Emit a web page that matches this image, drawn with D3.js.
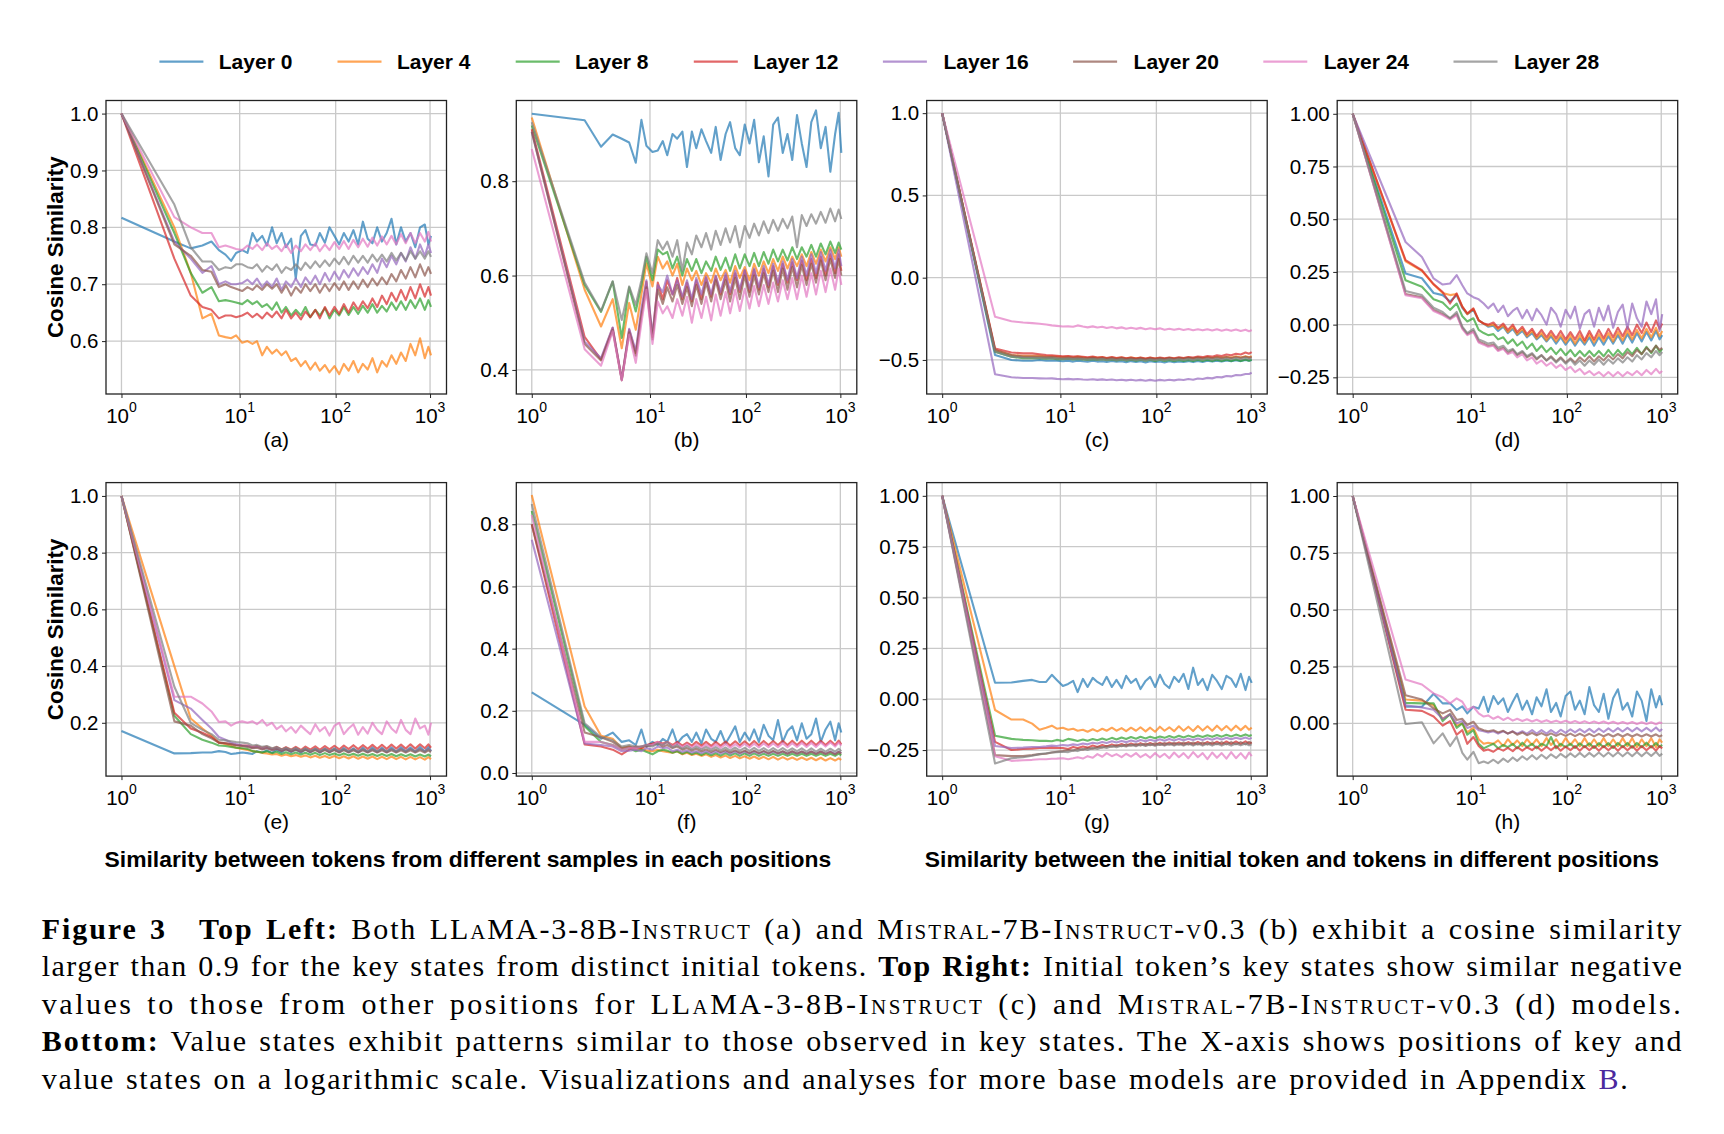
<!DOCTYPE html>
<html><head><meta charset="utf-8">
<script src="https://cdn.jsdelivr.net/npm/d3@7/dist/d3.min.js"></script>
<style>body{margin:0;background:#fff}svg{display:block}</style>
</head><body>
<svg id="chart" width="1724" height="1134"></svg>
<script>
// ---------------- DATA ----------------
const positions = [1, 2.4, 3.35, 4.3, 5.25, 6.2, 7.2, 8.2, 9.2, 10.6, 12, 13.5, 15, 17, 19, 21.5, 24, 27, 30, 34, 38, 43, 48, 54, 61, 68, 77, 86, 97, 109, 122, 137, 154, 173, 194, 218, 245, 275, 309, 347, 390, 438, 492, 552, 620, 697, 783, 880, 960, 1024];
const layerNames = ["Layer 0", "Layer 4", "Layer 8", "Layer 12", "Layer 16", "Layer 20", "Layer 24", "Layer 28"];
const panelLabels = ["(a)", "(b)", "(c)", "(d)", "(e)", "(f)", "(g)", "(h)"];
const xTickValues = [1, 10, 100, 1000];

// (a)
const a0 = [0.817, 0.775, 0.763, 0.768, 0.775, 0.76, 0.752, 0.741, 0.755, 0.76, 0.755, 0.79, 0.775, 0.785, 0.768, 0.80, 0.772, 0.79, 0.765, 0.78, 0.71, 0.785, 0.795, 0.77, 0.768, 0.79, 0.773, 0.80, 0.785, 0.77, 0.79, 0.775, 0.795, 0.77, 0.81, 0.78, 0.772, 0.80, 0.775, 0.79, 0.815, 0.77, 0.80, 0.775, 0.79, 0.765, 0.80, 0.805, 0.77, 0.785];
const a4 = [1.0, 0.80, 0.72, 0.64, 0.648, 0.61, 0.607, 0.605, 0.61, 0.597, 0.60, 0.595, 0.60, 0.575, 0.59, 0.578, 0.585, 0.575, 0.582, 0.565, 0.57, 0.556, 0.565, 0.55, 0.562, 0.548, 0.558, 0.545, 0.556, 0.542, 0.56, 0.548, 0.565, 0.545, 0.56, 0.55, 0.57, 0.545, 0.565, 0.555, 0.575, 0.56, 0.58, 0.565, 0.595, 0.575, 0.605, 0.57, 0.59, 0.575];
const a8 = [1.0, 0.79, 0.72, 0.685, 0.695, 0.67, 0.672, 0.67, 0.668, 0.665, 0.672, 0.665, 0.67, 0.66, 0.665, 0.655, 0.668, 0.65, 0.66, 0.645, 0.655, 0.645, 0.66, 0.642, 0.655, 0.645, 0.658, 0.64, 0.655, 0.645, 0.66, 0.646, 0.66, 0.648, 0.662, 0.65, 0.665, 0.65, 0.662, 0.652, 0.668, 0.655, 0.67, 0.655, 0.672, 0.658, 0.675, 0.655, 0.672, 0.66];
const a12 = [1.0, 0.745, 0.68, 0.66, 0.655, 0.64, 0.645, 0.645, 0.642, 0.645, 0.65, 0.642, 0.648, 0.64, 0.65, 0.642, 0.652, 0.64, 0.655, 0.64, 0.65, 0.638, 0.652, 0.642, 0.655, 0.64, 0.66, 0.645, 0.66, 0.648, 0.665, 0.65, 0.668, 0.655, 0.67, 0.658, 0.675, 0.66, 0.68, 0.665, 0.685, 0.67, 0.69, 0.672, 0.695, 0.675, 0.70, 0.678, 0.695, 0.68];
const a16 = [1.0, 0.775, 0.745, 0.72, 0.732, 0.70, 0.705, 0.70, 0.70, 0.702, 0.708, 0.70, 0.71, 0.695, 0.705, 0.695, 0.71, 0.69, 0.705, 0.695, 0.71, 0.695, 0.712, 0.70, 0.715, 0.70, 0.72, 0.705, 0.722, 0.708, 0.725, 0.712, 0.728, 0.715, 0.73, 0.718, 0.735, 0.72, 0.745, 0.73, 0.75, 0.735, 0.755, 0.74, 0.765, 0.745, 0.77, 0.75, 0.77, 0.755];
const a20 = [1.0, 0.77, 0.75, 0.725, 0.722, 0.695, 0.70, 0.695, 0.692, 0.688, 0.695, 0.69, 0.698, 0.69, 0.70, 0.692, 0.70, 0.685, 0.698, 0.68, 0.695, 0.685, 0.70, 0.688, 0.70, 0.685, 0.70, 0.688, 0.702, 0.69, 0.705, 0.69, 0.705, 0.692, 0.708, 0.695, 0.71, 0.698, 0.712, 0.70, 0.718, 0.705, 0.725, 0.71, 0.73, 0.712, 0.735, 0.715, 0.73, 0.718];
const a24 = [1.0, 0.818, 0.80, 0.79, 0.79, 0.765, 0.768, 0.765, 0.762, 0.76, 0.768, 0.762, 0.77, 0.76, 0.772, 0.762, 0.768, 0.758, 0.77, 0.755, 0.768, 0.758, 0.77, 0.76, 0.772, 0.758, 0.77, 0.76, 0.774, 0.762, 0.776, 0.762, 0.778, 0.765, 0.78, 0.766, 0.782, 0.768, 0.784, 0.77, 0.785, 0.77, 0.788, 0.772, 0.79, 0.772, 0.79, 0.775, 0.792, 0.775];
const a28 = [1.0, 0.84, 0.765, 0.74, 0.74, 0.725, 0.73, 0.728, 0.735, 0.735, 0.73, 0.728, 0.735, 0.722, 0.732, 0.725, 0.735, 0.72, 0.73, 0.725, 0.735, 0.725, 0.738, 0.728, 0.74, 0.73, 0.742, 0.732, 0.745, 0.735, 0.748, 0.735, 0.75, 0.738, 0.75, 0.738, 0.752, 0.74, 0.752, 0.74, 0.755, 0.742, 0.755, 0.742, 0.758, 0.745, 0.758, 0.745, 0.758, 0.748];
// (b)
const b0 = [0.943, 0.929, 0.873, 0.899, 0.89, 0.882, 0.839, 0.93, 0.875, 0.862, 0.865, 0.885, 0.855, 0.90, 0.89, 0.905, 0.83, 0.905, 0.87, 0.91, 0.885, 0.86, 0.915, 0.845, 0.9, 0.925, 0.87, 0.855, 0.92, 0.88, 0.93, 0.84, 0.895, 0.81, 0.92, 0.935, 0.86, 0.9, 0.845, 0.94, 0.88, 0.83, 0.925, 0.95, 0.87, 0.915, 0.82, 0.9, 0.945, 0.86];
const b4 = [0.935, 0.57, 0.492, 0.55, 0.446, 0.542, 0.485, 0.56, 0.626, 0.577, 0.64, 0.615, 0.63, 0.60, 0.625, 0.58, 0.615, 0.59, 0.61, 0.58, 0.605, 0.585, 0.615, 0.59, 0.612, 0.585, 0.62, 0.595, 0.618, 0.59, 0.625, 0.60, 0.63, 0.605, 0.635, 0.61, 0.64, 0.615, 0.64, 0.62, 0.645, 0.62, 0.65, 0.625, 0.655, 0.63, 0.66, 0.635, 0.66, 0.64];
const b8 = [0.918, 0.58, 0.523, 0.587, 0.468, 0.575, 0.524, 0.58, 0.64, 0.59, 0.655, 0.645, 0.65, 0.615, 0.64, 0.60, 0.635, 0.61, 0.635, 0.605, 0.63, 0.61, 0.64, 0.612, 0.638, 0.61, 0.645, 0.615, 0.645, 0.62, 0.648, 0.62, 0.65, 0.625, 0.655, 0.63, 0.655, 0.632, 0.66, 0.635, 0.66, 0.64, 0.665, 0.64, 0.668, 0.645, 0.672, 0.648, 0.67, 0.655];
const b12 = [0.91, 0.47, 0.422, 0.489, 0.38, 0.485, 0.436, 0.52, 0.587, 0.47, 0.585, 0.55, 0.59, 0.56, 0.595, 0.55, 0.585, 0.545, 0.59, 0.55, 0.595, 0.555, 0.598, 0.56, 0.60, 0.56, 0.605, 0.565, 0.61, 0.565, 0.612, 0.57, 0.615, 0.575, 0.62, 0.58, 0.625, 0.585, 0.628, 0.59, 0.632, 0.59, 0.635, 0.595, 0.64, 0.60, 0.645, 0.605, 0.645, 0.61];
const b16 = [0.905, 0.46, 0.425, 0.49, 0.38, 0.487, 0.44, 0.53, 0.59, 0.475, 0.58, 0.565, 0.60, 0.56, 0.59, 0.555, 0.59, 0.55, 0.595, 0.56, 0.598, 0.56, 0.60, 0.565, 0.605, 0.565, 0.61, 0.57, 0.612, 0.572, 0.615, 0.575, 0.62, 0.58, 0.625, 0.585, 0.63, 0.59, 0.635, 0.595, 0.64, 0.60, 0.645, 0.605, 0.65, 0.61, 0.655, 0.615, 0.655, 0.62];
const b20 = [0.905, 0.455, 0.42, 0.485, 0.378, 0.48, 0.43, 0.515, 0.575, 0.465, 0.57, 0.54, 0.575, 0.545, 0.58, 0.54, 0.575, 0.535, 0.58, 0.54, 0.585, 0.545, 0.59, 0.55, 0.59, 0.545, 0.595, 0.55, 0.60, 0.555, 0.60, 0.56, 0.605, 0.565, 0.61, 0.565, 0.615, 0.57, 0.618, 0.575, 0.622, 0.58, 0.625, 0.585, 0.632, 0.59, 0.635, 0.595, 0.635, 0.60];
const b24 = [0.868, 0.444, 0.409, 0.482, 0.378, 0.475, 0.415, 0.50, 0.57, 0.455, 0.545, 0.52, 0.535, 0.51, 0.55, 0.515, 0.555, 0.50, 0.55, 0.51, 0.555, 0.505, 0.56, 0.515, 0.565, 0.52, 0.57, 0.525, 0.572, 0.53, 0.578, 0.535, 0.58, 0.54, 0.585, 0.545, 0.59, 0.55, 0.595, 0.55, 0.60, 0.555, 0.605, 0.56, 0.61, 0.565, 0.615, 0.57, 0.615, 0.58];
const b28 = [0.925, 0.585, 0.525, 0.588, 0.506, 0.577, 0.538, 0.59, 0.647, 0.605, 0.675, 0.655, 0.672, 0.64, 0.675, 0.61, 0.67, 0.645, 0.685, 0.66, 0.69, 0.655, 0.695, 0.665, 0.70, 0.67, 0.705, 0.66, 0.705, 0.68, 0.71, 0.685, 0.715, 0.69, 0.718, 0.695, 0.72, 0.70, 0.725, 0.66, 0.728, 0.705, 0.73, 0.71, 0.735, 0.712, 0.742, 0.715, 0.74, 0.72];
// (c)
const c0 = [1.0, -0.47, -0.50, -0.505, -0.505, -0.50, -0.505, -0.503, -0.505, -0.508, -0.505, -0.51, -0.505, -0.508, -0.51, -0.505, -0.51, -0.508, -0.512, -0.506, -0.51, -0.508, -0.514, -0.507, -0.512, -0.508, -0.515, -0.508, -0.513, -0.509, -0.515, -0.508, -0.514, -0.509, -0.512, -0.507, -0.513, -0.506, -0.512, -0.505, -0.51, -0.504, -0.51, -0.503, -0.508, -0.502, -0.507, -0.50, -0.505, -0.50];
const c4 = [1.0, -0.44, -0.47, -0.475, -0.475, -0.475, -0.48, -0.478, -0.48, -0.482, -0.48, -0.485, -0.48, -0.484, -0.488, -0.482, -0.487, -0.484, -0.49, -0.485, -0.49, -0.486, -0.492, -0.486, -0.49, -0.487, -0.493, -0.487, -0.492, -0.488, -0.493, -0.487, -0.492, -0.487, -0.49, -0.485, -0.49, -0.484, -0.489, -0.482, -0.488, -0.481, -0.487, -0.48, -0.486, -0.478, -0.485, -0.477, -0.484, -0.478];
const c8 = [1.0, -0.45, -0.48, -0.49, -0.49, -0.49, -0.492, -0.49, -0.495, -0.495, -0.493, -0.497, -0.494, -0.497, -0.5, -0.495, -0.5, -0.496, -0.502, -0.497, -0.503, -0.497, -0.504, -0.498, -0.505, -0.498, -0.505, -0.499, -0.506, -0.499, -0.506, -0.5, -0.507, -0.5, -0.506, -0.5, -0.507, -0.499, -0.506, -0.499, -0.507, -0.498, -0.506, -0.498, -0.507, -0.497, -0.506, -0.497, -0.505, -0.498];
const c12 = [1.0, -0.43, -0.455, -0.46, -0.46, -0.465, -0.47, -0.472, -0.475, -0.478, -0.477, -0.48, -0.478, -0.481, -0.484, -0.48, -0.485, -0.482, -0.488, -0.483, -0.489, -0.484, -0.49, -0.485, -0.491, -0.486, -0.492, -0.486, -0.491, -0.486, -0.49, -0.485, -0.49, -0.484, -0.488, -0.482, -0.486, -0.479, -0.483, -0.476, -0.48, -0.472, -0.476, -0.467, -0.472, -0.462, -0.467, -0.455, -0.462, -0.452];
const c16 = [1.0, -0.587, -0.605, -0.61, -0.61, -0.612, -0.613, -0.612, -0.615, -0.617, -0.615, -0.618, -0.616, -0.619, -0.62, -0.617, -0.621, -0.618, -0.622, -0.619, -0.623, -0.62, -0.624, -0.62, -0.625, -0.621, -0.626, -0.621, -0.626, -0.621, -0.625, -0.62, -0.624, -0.619, -0.622, -0.616, -0.62, -0.613, -0.616, -0.609, -0.612, -0.604, -0.606, -0.598, -0.6, -0.592, -0.593, -0.585, -0.585, -0.578];
const c20 = [1.0, -0.44, -0.47, -0.48, -0.48, -0.48, -0.483, -0.482, -0.485, -0.487, -0.485, -0.488, -0.486, -0.489, -0.49, -0.487, -0.491, -0.488, -0.493, -0.489, -0.494, -0.489, -0.495, -0.49, -0.495, -0.49, -0.496, -0.49, -0.495, -0.49, -0.495, -0.489, -0.494, -0.488, -0.493, -0.487, -0.492, -0.486, -0.491, -0.485, -0.49, -0.484, -0.489, -0.483, -0.488, -0.482, -0.487, -0.481, -0.486, -0.482];
const c24 = [1.0, -0.237, -0.265, -0.272, -0.276, -0.28, -0.285, -0.29, -0.293, -0.297, -0.296, -0.298, -0.29, -0.297, -0.302, -0.296, -0.303, -0.298, -0.306, -0.3, -0.308, -0.302, -0.31, -0.304, -0.311, -0.305, -0.313, -0.307, -0.314, -0.308, -0.316, -0.31, -0.317, -0.311, -0.318, -0.312, -0.319, -0.313, -0.32, -0.313, -0.321, -0.314, -0.322, -0.315, -0.323, -0.315, -0.324, -0.316, -0.326, -0.318];
const c28 = [1.0, -0.45, -0.48, -0.485, -0.487, -0.488, -0.49, -0.49, -0.492, -0.494, -0.492, -0.495, -0.493, -0.496, -0.498, -0.494, -0.499, -0.495, -0.5, -0.496, -0.501, -0.496, -0.502, -0.497, -0.502, -0.497, -0.503, -0.497, -0.502, -0.497, -0.502, -0.496, -0.501, -0.496, -0.5, -0.495, -0.5, -0.494, -0.499, -0.493, -0.498, -0.492, -0.497, -0.491, -0.496, -0.49, -0.495, -0.489, -0.494, -0.49];
// (d)
const d0 = [1.0, 0.242, 0.22, 0.15, 0.14, 0.11, 0.14, 0.08, 0.05, 0.07, 0.02, 0.005, -0.01, -0.005, -0.03, -0.01, -0.04, -0.02, -0.05, -0.03, -0.06, -0.04, -0.07, -0.05, -0.08, -0.055, -0.09, -0.06, -0.095, -0.065, -0.1, -0.065, -0.095, -0.06, -0.1, -0.06, -0.095, -0.055, -0.09, -0.05, -0.09, -0.045, -0.085, -0.04, -0.08, -0.035, -0.075, -0.03, -0.07, -0.05];
const d4 = [1.0, 0.30, 0.255, 0.19, 0.15, 0.14, 0.145, 0.085, 0.05, 0.075, 0.02, 0.005, -0.005, 0.0, -0.02, -0.005, -0.035, -0.01, -0.045, -0.02, -0.055, -0.03, -0.065, -0.04, -0.075, -0.045, -0.08, -0.05, -0.085, -0.05, -0.09, -0.05, -0.085, -0.045, -0.085, -0.045, -0.08, -0.04, -0.08, -0.035, -0.075, -0.03, -0.07, -0.025, -0.065, -0.02, -0.06, -0.015, -0.055, -0.03];
const d8 = [1.0, 0.21, 0.18, 0.12, 0.105, 0.07, 0.1, 0.04, 0.015, 0.03, -0.025, -0.04, -0.05, -0.045, -0.07, -0.06, -0.09, -0.07, -0.1, -0.08, -0.115, -0.09, -0.125, -0.1, -0.13, -0.11, -0.14, -0.115, -0.145, -0.12, -0.15, -0.125, -0.15, -0.125, -0.15, -0.125, -0.15, -0.12, -0.148, -0.12, -0.145, -0.115, -0.14, -0.11, -0.14, -0.105, -0.135, -0.1, -0.13, -0.115];
const d12 = [1.0, 0.306, 0.258, 0.192, 0.155, 0.10, 0.148, 0.085, 0.053, 0.077, 0.02, 0.005, 0.0, 0.01, -0.015, 0.005, -0.025, 0.0, -0.035, -0.01, -0.045, -0.02, -0.055, -0.025, -0.06, -0.03, -0.065, -0.03, -0.07, -0.035, -0.07, -0.03, -0.075, -0.03, -0.07, -0.025, -0.065, -0.02, -0.06, -0.015, -0.055, -0.01, -0.05, 0.0, -0.04, 0.01, -0.035, 0.02, -0.02, 0.005];
const d16 = [1.0, 0.392, 0.321, 0.219, 0.19, 0.195, 0.235, 0.187, 0.148, 0.13, 0.12, 0.10, 0.077, 0.10, 0.06, 0.09, 0.04, 0.065, 0.08, 0.03, 0.07, 0.02, 0.075, 0.045, 0.0, 0.08, 0.05, -0.01, 0.07, 0.03, 0.085, -0.02, 0.05, 0.07, -0.01, 0.08, 0.02, 0.09, -0.015, 0.06, 0.095, -0.02, 0.1, 0.03, -0.01, 0.11, 0.05, 0.12, -0.03, 0.05];
const d20 = [1.0, 0.145, 0.13, 0.07, 0.05, 0.03, 0.05, -0.015, -0.045, -0.03, -0.08, -0.09, -0.1, -0.095, -0.12, -0.11, -0.135, -0.12, -0.145, -0.13, -0.155, -0.14, -0.165, -0.145, -0.17, -0.15, -0.175, -0.155, -0.18, -0.16, -0.18, -0.155, -0.175, -0.15, -0.175, -0.15, -0.17, -0.145, -0.165, -0.14, -0.16, -0.13, -0.15, -0.12, -0.14, -0.11, -0.13, -0.1, -0.12, -0.11];
const d24 = [1.0, 0.14, 0.125, 0.065, 0.045, 0.025, 0.045, -0.02, -0.05, -0.035, -0.085, -0.095, -0.105, -0.1, -0.125, -0.115, -0.14, -0.13, -0.155, -0.14, -0.17, -0.155, -0.185, -0.17, -0.195, -0.18, -0.205, -0.19, -0.215, -0.2, -0.225, -0.21, -0.235, -0.22, -0.24, -0.225, -0.245, -0.225, -0.245, -0.225, -0.245, -0.225, -0.24, -0.22, -0.24, -0.215, -0.235, -0.21, -0.23, -0.22];
const d28 = [1.0, 0.16, 0.14, 0.08, 0.06, 0.03, 0.06, -0.01, -0.04, -0.02, -0.07, -0.08, -0.09, -0.085, -0.11, -0.1, -0.125, -0.115, -0.14, -0.125, -0.15, -0.135, -0.16, -0.145, -0.17, -0.155, -0.18, -0.16, -0.185, -0.165, -0.19, -0.17, -0.195, -0.17, -0.19, -0.165, -0.19, -0.165, -0.185, -0.16, -0.18, -0.155, -0.175, -0.145, -0.165, -0.135, -0.155, -0.125, -0.145, -0.13];
// (e)
const e0 = [0.171, 0.092, 0.093, 0.095, 0.095, 0.10, 0.097, 0.09, 0.092, 0.095, 0.093, 0.09, 0.1, 0.095, 0.102, 0.094, 0.105, 0.096, 0.108, 0.097, 0.106, 0.095, 0.107, 0.096, 0.108, 0.095, 0.109, 0.096, 0.11, 0.097, 0.111, 0.097, 0.11, 0.096, 0.112, 0.097, 0.113, 0.098, 0.112, 0.097, 0.113, 0.098, 0.114, 0.099, 0.113, 0.098, 0.115, 0.099, 0.114, 0.1];
const e4 = [1.0, 0.40, 0.215, 0.18, 0.155, 0.13, 0.125, 0.118, 0.112, 0.108, 0.104, 0.1, 0.098, 0.094, 0.092, 0.088, 0.09, 0.084, 0.088, 0.082, 0.086, 0.08, 0.085, 0.078, 0.084, 0.077, 0.083, 0.076, 0.083, 0.075, 0.082, 0.074, 0.082, 0.073, 0.081, 0.073, 0.081, 0.072, 0.08, 0.072, 0.081, 0.072, 0.08, 0.071, 0.08, 0.071, 0.079, 0.07, 0.079, 0.072];
const e8 = [1.0, 0.225, 0.16, 0.14, 0.13, 0.12, 0.118, 0.115, 0.112, 0.11, 0.108, 0.1, 0.098, 0.095, 0.1, 0.093, 0.098, 0.09, 0.096, 0.089, 0.095, 0.088, 0.094, 0.087, 0.094, 0.086, 0.093, 0.086, 0.092, 0.085, 0.092, 0.085, 0.091, 0.084, 0.091, 0.084, 0.09, 0.083, 0.09, 0.083, 0.09, 0.082, 0.089, 0.082, 0.089, 0.081, 0.088, 0.081, 0.088, 0.082];
const e12 = [1.0, 0.235, 0.18, 0.165, 0.15, 0.13, 0.128, 0.125, 0.122, 0.12, 0.12, 0.115, 0.118, 0.112, 0.116, 0.108, 0.115, 0.106, 0.114, 0.105, 0.115, 0.104, 0.116, 0.105, 0.117, 0.105, 0.118, 0.106, 0.119, 0.106, 0.12, 0.107, 0.121, 0.107, 0.121, 0.108, 0.122, 0.108, 0.122, 0.108, 0.123, 0.109, 0.123, 0.109, 0.124, 0.109, 0.124, 0.11, 0.124, 0.112];
const e16 = [1.0, 0.28, 0.25, 0.21, 0.18, 0.15, 0.14, 0.13, 0.125, 0.12, 0.118, 0.112, 0.115, 0.108, 0.112, 0.105, 0.11, 0.102, 0.108, 0.1, 0.108, 0.099, 0.107, 0.099, 0.107, 0.098, 0.107, 0.098, 0.106, 0.098, 0.106, 0.097, 0.106, 0.097, 0.106, 0.097, 0.106, 0.097, 0.107, 0.097, 0.107, 0.098, 0.108, 0.098, 0.108, 0.098, 0.108, 0.099, 0.108, 0.1];
const e20 = [1.0, 0.205, 0.19, 0.16, 0.145, 0.13, 0.128, 0.124, 0.12, 0.118, 0.115, 0.11, 0.112, 0.106, 0.11, 0.103, 0.108, 0.1, 0.106, 0.099, 0.105, 0.098, 0.105, 0.097, 0.104, 0.096, 0.104, 0.096, 0.104, 0.095, 0.104, 0.095, 0.103, 0.095, 0.103, 0.095, 0.103, 0.095, 0.103, 0.095, 0.103, 0.095, 0.103, 0.095, 0.103, 0.095, 0.103, 0.095, 0.103, 0.097];
const e24 = [1.0, 0.292, 0.292, 0.268, 0.24, 0.203, 0.205, 0.19, 0.2, 0.205, 0.2, 0.205, 0.195, 0.21, 0.19, 0.2, 0.178, 0.19, 0.17, 0.185, 0.165, 0.19, 0.175, 0.16, 0.195, 0.17, 0.185, 0.155, 0.19, 0.2, 0.16, 0.18, 0.195, 0.158, 0.185, 0.162, 0.2, 0.175, 0.16, 0.205, 0.18, 0.165, 0.21, 0.175, 0.16, 0.215, 0.18, 0.19, 0.158, 0.2];
const e28 = [1.0, 0.327, 0.2, 0.175, 0.16, 0.14, 0.138, 0.135, 0.132, 0.13, 0.128, 0.12, 0.122, 0.115, 0.118, 0.11, 0.115, 0.106, 0.112, 0.104, 0.111, 0.102, 0.11, 0.101, 0.109, 0.1, 0.108, 0.1, 0.108, 0.099, 0.107, 0.099, 0.107, 0.099, 0.107, 0.099, 0.107, 0.099, 0.107, 0.099, 0.107, 0.099, 0.107, 0.099, 0.107, 0.099, 0.107, 0.099, 0.107, 0.1];
// (f)
const f0 = [0.259, 0.155, 0.11, 0.13, 0.1, 0.105, 0.09, 0.14, 0.085, 0.1, 0.09, 0.11, 0.10, 0.14, 0.095, 0.115, 0.125, 0.1, 0.13, 0.095, 0.14, 0.11, 0.1, 0.135, 0.095, 0.12, 0.15, 0.1, 0.13, 0.105, 0.14, 0.1, 0.155, 0.12, 0.105, 0.17, 0.1, 0.135, 0.15, 0.105, 0.16, 0.11, 0.125, 0.175, 0.1, 0.14, 0.165, 0.105, 0.16, 0.13];
const f4 = [0.894, 0.214, 0.12, 0.11, 0.08, 0.085, 0.075, 0.08, 0.072, 0.07, 0.075, 0.07, 0.068, 0.065, 0.07, 0.06, 0.065, 0.058, 0.062, 0.055, 0.06, 0.052, 0.058, 0.05, 0.056, 0.048, 0.055, 0.047, 0.054, 0.046, 0.053, 0.045, 0.052, 0.044, 0.052, 0.043, 0.051, 0.043, 0.05, 0.042, 0.05, 0.042, 0.049, 0.041, 0.049, 0.04, 0.048, 0.04, 0.047, 0.042];
const f8 = [0.843, 0.15, 0.10, 0.09, 0.075, 0.08, 0.07, 0.075, 0.068, 0.06, 0.07, 0.075, 0.072, 0.065, 0.07, 0.062, 0.068, 0.06, 0.066, 0.058, 0.065, 0.057, 0.064, 0.056, 0.064, 0.056, 0.063, 0.055, 0.063, 0.055, 0.063, 0.055, 0.062, 0.055, 0.062, 0.055, 0.062, 0.055, 0.062, 0.055, 0.062, 0.055, 0.062, 0.055, 0.062, 0.055, 0.062, 0.055, 0.062, 0.057];
const f12 = [0.80, 0.092, 0.085, 0.075, 0.06, 0.075, 0.085, 0.08, 0.09, 0.095, 0.1, 0.095, 0.1, 0.09, 0.1, 0.088, 0.098, 0.088, 0.1, 0.088, 0.1, 0.087, 0.1, 0.088, 0.101, 0.088, 0.102, 0.089, 0.102, 0.089, 0.103, 0.089, 0.103, 0.09, 0.103, 0.09, 0.104, 0.09, 0.104, 0.09, 0.104, 0.09, 0.104, 0.09, 0.104, 0.09, 0.104, 0.09, 0.104, 0.092];
const f16 = [0.75, 0.095, 0.09, 0.085, 0.07, 0.072, 0.075, 0.07, 0.08, 0.075, 0.085, 0.08, 0.082, 0.07, 0.075, 0.068, 0.072, 0.066, 0.07, 0.064, 0.07, 0.063, 0.07, 0.063, 0.069, 0.062, 0.069, 0.062, 0.069, 0.062, 0.069, 0.062, 0.069, 0.062, 0.069, 0.062, 0.069, 0.062, 0.069, 0.062, 0.069, 0.062, 0.069, 0.062, 0.069, 0.062, 0.069, 0.062, 0.069, 0.064];
const f20 = [0.80, 0.13, 0.115, 0.10, 0.08, 0.085, 0.08, 0.085, 0.085, 0.09, 0.095, 0.085, 0.09, 0.08, 0.085, 0.075, 0.08, 0.072, 0.078, 0.07, 0.076, 0.068, 0.075, 0.067, 0.074, 0.066, 0.073, 0.065, 0.072, 0.064, 0.072, 0.064, 0.071, 0.063, 0.071, 0.063, 0.07, 0.062, 0.07, 0.062, 0.069, 0.061, 0.069, 0.061, 0.069, 0.061, 0.068, 0.06, 0.068, 0.062];
const f24 = [0.83, 0.10, 0.1, 0.09, 0.075, 0.08, 0.08, 0.085, 0.09, 0.09, 0.1, 0.09, 0.1, 0.085, 0.095, 0.083, 0.093, 0.082, 0.092, 0.081, 0.092, 0.081, 0.092, 0.081, 0.093, 0.081, 0.093, 0.082, 0.094, 0.082, 0.094, 0.082, 0.095, 0.083, 0.095, 0.083, 0.096, 0.083, 0.096, 0.084, 0.097, 0.084, 0.097, 0.084, 0.098, 0.085, 0.098, 0.085, 0.098, 0.088];
const f28 = [0.865, 0.16, 0.115, 0.105, 0.085, 0.09, 0.085, 0.085, 0.09, 0.085, 0.095, 0.09, 0.1, 0.082, 0.09, 0.078, 0.087, 0.076, 0.085, 0.075, 0.084, 0.074, 0.083, 0.073, 0.082, 0.072, 0.082, 0.072, 0.081, 0.071, 0.081, 0.071, 0.08, 0.07, 0.08, 0.07, 0.08, 0.07, 0.079, 0.07, 0.079, 0.069, 0.079, 0.069, 0.078, 0.069, 0.078, 0.069, 0.078, 0.07];
// (g)
const g0 = [1.0, 0.081, 0.082, 0.09, 0.095, 0.085, 0.085, 0.12, 0.095, 0.065, 0.075, 0.09, 0.035, 0.1, 0.06, 0.105, 0.085, 0.07, 0.11, 0.06, 0.095, 0.055, 0.115, 0.08, 0.1, 0.05, 0.09, 0.11, 0.06, 0.12, 0.075, 0.055, 0.11, 0.085, 0.125, 0.05, 0.155, 0.07, 0.1, 0.045, 0.12, 0.09, 0.05, 0.115, 0.1, 0.06, 0.125, 0.045, 0.11, 0.08];
const g4 = [1.0, -0.053, -0.1, -0.1, -0.12, -0.15, -0.14, -0.13, -0.145, -0.14, -0.15, -0.145, -0.155, -0.15, -0.16, -0.148, -0.158, -0.145, -0.155, -0.14, -0.155, -0.142, -0.157, -0.14, -0.155, -0.138, -0.158, -0.14, -0.16, -0.135, -0.155, -0.138, -0.157, -0.133, -0.155, -0.135, -0.156, -0.132, -0.154, -0.133, -0.155, -0.13, -0.153, -0.132, -0.154, -0.13, -0.152, -0.131, -0.15, -0.14];
const g8 = [1.0, -0.18, -0.195, -0.2, -0.202, -0.205, -0.205, -0.207, -0.2, -0.205, -0.195, -0.2, -0.205, -0.198, -0.204, -0.196, -0.202, -0.193, -0.2, -0.19, -0.198, -0.188, -0.196, -0.186, -0.194, -0.185, -0.193, -0.184, -0.192, -0.183, -0.19, -0.181, -0.189, -0.18, -0.188, -0.179, -0.187, -0.178, -0.186, -0.177, -0.185, -0.176, -0.184, -0.175, -0.183, -0.174, -0.182, -0.173, -0.181, -0.176];
const g12 = [1.0, -0.21, -0.25, -0.245, -0.243, -0.24, -0.24, -0.238, -0.24, -0.24, -0.245, -0.235, -0.24, -0.232, -0.238, -0.228, -0.235, -0.225, -0.232, -0.222, -0.23, -0.22, -0.23, -0.218, -0.228, -0.216, -0.227, -0.215, -0.226, -0.214, -0.225, -0.213, -0.224, -0.212, -0.224, -0.211, -0.223, -0.21, -0.223, -0.21, -0.222, -0.209, -0.222, -0.208, -0.221, -0.208, -0.221, -0.207, -0.22, -0.212];
const g16 = [1.0, -0.23, -0.24, -0.238, -0.235, -0.235, -0.232, -0.228, -0.23, -0.225, -0.228, -0.222, -0.225, -0.218, -0.222, -0.214, -0.218, -0.21, -0.215, -0.207, -0.213, -0.205, -0.211, -0.203, -0.209, -0.201, -0.207, -0.199, -0.205, -0.197, -0.204, -0.196, -0.203, -0.195, -0.202, -0.194, -0.201, -0.193, -0.2, -0.192, -0.199, -0.191, -0.198, -0.19, -0.197, -0.189, -0.196, -0.188, -0.195, -0.19];
const g20 = [1.0, -0.275, -0.28, -0.28, -0.275, -0.27, -0.268, -0.262, -0.258, -0.255, -0.25, -0.252, -0.245, -0.248, -0.24, -0.243, -0.235, -0.238, -0.23, -0.234, -0.226, -0.231, -0.222, -0.229, -0.22, -0.228, -0.218, -0.226, -0.216, -0.225, -0.215, -0.224, -0.214, -0.224, -0.213, -0.223, -0.213, -0.223, -0.212, -0.223, -0.212, -0.222, -0.211, -0.222, -0.211, -0.222, -0.211, -0.222, -0.21, -0.216];
const g24 = [1.0, -0.28, -0.303, -0.3, -0.298, -0.295, -0.295, -0.293, -0.292, -0.29, -0.295, -0.29, -0.285, -0.292, -0.28, -0.288, -0.27, -0.283, -0.265, -0.28, -0.27, -0.285, -0.268, -0.282, -0.265, -0.285, -0.27, -0.288, -0.265, -0.285, -0.268, -0.29, -0.262, -0.285, -0.265, -0.29, -0.26, -0.285, -0.265, -0.295, -0.262, -0.288, -0.265, -0.292, -0.26, -0.29, -0.265, -0.292, -0.262, -0.28];
const g28 = [1.0, -0.316, -0.29, -0.285, -0.278, -0.27, -0.266, -0.262, -0.26, -0.258, -0.26, -0.252, -0.255, -0.245, -0.25, -0.24, -0.245, -0.235, -0.24, -0.23, -0.236, -0.227, -0.233, -0.224, -0.231, -0.222, -0.23, -0.221, -0.229, -0.22, -0.228, -0.219, -0.228, -0.219, -0.228, -0.218, -0.228, -0.218, -0.228, -0.218, -0.228, -0.218, -0.228, -0.218, -0.228, -0.218, -0.227, -0.218, -0.227, -0.222];
// (h)
const h0 = [1.0, 0.073, 0.073, 0.13, 0.088, 0.088, 0.059, 0.075, 0.044, 0.073, 0.065, 0.117, 0.05, 0.12, 0.085, 0.11, 0.05, 0.095, 0.13, 0.06, 0.1, 0.04, 0.115, 0.075, 0.15, 0.05, 0.09, 0.03, 0.12, 0.14, 0.06, 0.1, 0.04, 0.16, 0.08, 0.05, 0.13, 0.02, 0.11, 0.15, 0.06, 0.09, 0.03, 0.14, 0.1, 0.01, 0.15, 0.07, 0.12, 0.08];
const h4 = [1.0, 0.105, 0.10, 0.08, 0.02, 0.04, -0.01, 0.0, -0.04, -0.02, -0.07, -0.09, -0.085, -0.09, -0.075, -0.1, -0.07, -0.095, -0.075, -0.1, -0.07, -0.095, -0.07, -0.1, -0.065, -0.095, -0.07, -0.1, -0.065, -0.095, -0.07, -0.1, -0.065, -0.1, -0.07, -0.1, -0.065, -0.1, -0.07, -0.1, -0.065, -0.1, -0.065, -0.105, -0.07, -0.1, -0.065, -0.105, -0.07, -0.085];
const h8 = [1.0, 0.09, 0.088, 0.088, 0.01, 0.04, -0.02, 0.0, -0.05, -0.03, -0.09, -0.11, -0.1, -0.09, -0.11, -0.095, -0.105, -0.09, -0.11, -0.085, -0.105, -0.09, -0.11, -0.09, -0.1, -0.06, -0.11, -0.09, -0.105, -0.09, -0.108, -0.088, -0.105, -0.088, -0.108, -0.087, -0.105, -0.087, -0.108, -0.086, -0.105, -0.086, -0.107, -0.086, -0.105, -0.085, -0.106, -0.086, -0.104, -0.095];
const h12 = [1.0, 0.06, 0.055, 0.03, -0.01, 0.01, -0.05, -0.03, -0.09, -0.06, -0.1, -0.12, -0.115, -0.125, -0.11, -0.12, -0.108, -0.122, -0.105, -0.12, -0.105, -0.118, -0.102, -0.12, -0.103, -0.118, -0.1, -0.12, -0.102, -0.118, -0.1, -0.12, -0.1, -0.118, -0.1, -0.12, -0.1, -0.118, -0.1, -0.12, -0.1, -0.118, -0.1, -0.12, -0.1, -0.118, -0.1, -0.12, -0.1, -0.11];
const h16 = [1.0, 0.08, 0.07, 0.06, 0.02, 0.04, 0.0, 0.01, -0.02, -0.01, -0.03, -0.035, -0.04, -0.035, -0.045, -0.035, -0.045, -0.035, -0.045, -0.035, -0.045, -0.03, -0.045, -0.03, -0.045, -0.03, -0.045, -0.028, -0.042, -0.026, -0.04, -0.025, -0.04, -0.024, -0.04, -0.023, -0.038, -0.022, -0.037, -0.021, -0.036, -0.02, -0.035, -0.02, -0.035, -0.02, -0.035, -0.018, -0.034, -0.025];
const h20 = [1.0, 0.124, 0.105, 0.066, 0.044, 0.059, 0.015, 0.02, -0.007, 0.007, -0.022, -0.03, -0.035, -0.03, -0.04, -0.033, -0.045, -0.036, -0.05, -0.04, -0.052, -0.042, -0.053, -0.043, -0.054, -0.044, -0.055, -0.045, -0.055, -0.045, -0.056, -0.046, -0.056, -0.046, -0.057, -0.046, -0.057, -0.047, -0.058, -0.047, -0.058, -0.047, -0.058, -0.048, -0.058, -0.048, -0.058, -0.048, -0.058, -0.052];
const h24 = [1.0, 0.193, 0.171, 0.132, 0.115, 0.088, 0.11, 0.095, 0.059, 0.073, 0.044, 0.03, 0.035, 0.02, 0.03, 0.015, 0.025, 0.012, 0.02, 0.01, 0.018, 0.008, 0.016, 0.006, 0.014, 0.005, 0.012, 0.004, 0.011, 0.003, 0.01, 0.002, 0.009, 0.001, 0.008, 0.0, 0.008, -0.001, 0.007, -0.002, 0.006, -0.002, 0.006, -0.003, 0.005, -0.003, 0.005, -0.004, 0.004, 0.0];
const h28 = [1.0, -0.003, 0.005, -0.088, -0.044, -0.1, -0.058, -0.13, -0.16, -0.125, -0.175, -0.168, -0.175, -0.16, -0.175, -0.155, -0.17, -0.15, -0.165, -0.145, -0.16, -0.14, -0.158, -0.138, -0.155, -0.136, -0.152, -0.134, -0.15, -0.132, -0.148, -0.13, -0.148, -0.13, -0.146, -0.128, -0.146, -0.128, -0.145, -0.127, -0.145, -0.127, -0.144, -0.126, -0.144, -0.126, -0.143, -0.125, -0.143, -0.133];

const yTicksA = [0.6, 0.7, 0.8, 0.9, 1.0];
const yTicksB = [0.4, 0.6, 0.8];
const yTicksC = [-0.5, 0.0, 0.5, 1.0];
const yTicksD = [-0.25, 0.0, 0.25, 0.5, 0.75, 1.0];
const yTicksE = [0.2, 0.4, 0.6, 0.8, 1.0];
const yTicksF = [0.0, 0.2, 0.4, 0.6, 0.8];
const yTicksG = [-0.25, 0.0, 0.25, 0.5, 0.75, 1.0];
const yTicksH = [0.0, 0.25, 0.5, 0.75, 1.0];

const titleLeft = "Similarity between tokens from different samples in each positions";
const titleRight = "Similarity between the initial token and tokens in different positions";
const yAxisTitle = "Cosine Similarity";

// ---------------- STYLE / LAYOUT ----------------
const colors = ["#1f77b4", "#ff7f0e", "#2ca02c", "#d62728", "#9467bd", "#8c564b", "#e377c2", "#7f7f7f"];
const panels = [
  {series: [a0, a4, a8, a12, a16, a20, a24, a28], yDomain: [0.507, 1.023], ticks: yTicksA, fmt: ".1f"},
  {series: [b0, b4, b8, b12, b16, b20, b24, b28], yDomain: [0.349, 0.971], ticks: yTicksB, fmt: ".1f"},
  {series: [c0, c4, c8, c12, c16, c20, c24, c28], yDomain: [-0.707, 1.077], ticks: yTicksC, fmt: ".1f"},
  {series: [d0, d4, d8, d12, d16, d20, d24, d28], yDomain: [-0.329, 1.063], ticks: yTicksD, fmt: ".2f"},
  {series: [e0, e4, e8, e12, e16, e20, e24, e28], yDomain: [0.012, 1.047], ticks: yTicksE, fmt: ".1f"},
  {series: [f0, f4, f8, f12, f16, f20, f24, f28], yDomain: [-0.01, 0.934], ticks: yTicksF, fmt: ".1f"},
  {series: [g0, g4, g8, g12, g16, g20, g24, g28], yDomain: [-0.378, 1.065], ticks: yTicksG, fmt: ".2f"},
  {series: [h0, h4, h8, h12, h16, h20, h24, h28], yDomain: [-0.232, 1.059], ticks: yTicksH, fmt: ".2f"}
];

const SANS = "'Liberation Sans', Arial, Helvetica, sans-serif";
const SERIF = "'Liberation Serif', 'Times New Roman', serif";
const svg = d3.select("#chart");
const SHIFT = 0.47;            // x-axis offset of the original log axis
const FW = 340.5, FH = 293.5;
const lefts = [106, 516.3, 926.7, 1337.2];
const tops = [100.5, 482.6];
const gridColor = "#c9c9c9";

panels.forEach((p, k) => {
  const L = lefts[k % 4], T = tops[Math.floor(k / 4)];
  const xs = d3.scaleLog().domain([0.3631, 1494.4]).range([L, L + FW]);
  const px = v => xs(v - SHIFT);
  const ys = d3.scaleLinear().domain(p.yDomain).range([T + FH, T]);
  const g = svg.append("g");

  g.selectAll(".vg").data(xTickValues).join("line")
    .attr("x1", d => px(d)).attr("x2", d => px(d)).attr("y1", T).attr("y2", T + FH)
    .attr("stroke", gridColor).attr("stroke-width", 1.3);
  g.selectAll(".hg").data(p.ticks).join("line")
    .attr("x1", L).attr("x2", L + FW).attr("y1", d => ys(d)).attr("y2", d => ys(d))
    .attr("stroke", gridColor).attr("stroke-width", 1.3);

  const xAxis = d3.axisBottom(xs).tickValues(xTickValues.map(v => v - SHIFT)).tickSize(4).tickFormat("");
  g.append("g").attr("transform", `translate(0,${T + FH})`).call(xAxis)
    .call(s => s.select(".domain").remove())
    .call(s => s.selectAll("line").attr("stroke", "#222").attr("stroke-width", 1));
  const yAxis = d3.axisLeft(ys).tickValues(p.ticks).tickSize(4).tickPadding(3.5).tickFormat(d3.format(p.fmt));
  g.append("g").attr("transform", `translate(${L},0)`).call(yAxis)
    .call(s => s.select(".domain").remove())
    .call(s => s.selectAll("line").attr("stroke", "#222").attr("stroke-width", 1))
    .call(s => s.selectAll("text").attr("font-family", SANS).attr("font-size", 20.5).attr("fill", "#000"));

  g.selectAll(".xl").data(xTickValues).join("text")
    .attr("x", d => px(d)).attr("y", T + FH + 28.5)
    .attr("text-anchor", "middle").attr("font-family", SANS).attr("font-size", 20.5).attr("fill", "#000")
    .each(function (d) {
      const t = d3.select(this);
      t.append("tspan").text("10");
      t.append("tspan").attr("dy", -11).attr("font-size", 14).text(Math.round(Math.log10(d)));
    });

  const line = d3.line().x((d, i) => px(positions[i])).y(d => ys(d));
  p.series.forEach((s, j) => {
    g.append("path").attr("d", line(s.slice(0, positions.length)))
      .attr("fill", "none").attr("stroke", colors[j]).attr("stroke-opacity", 0.7)
      .attr("stroke-width", 2.1).attr("stroke-linejoin", "round");
  });

  g.append("rect").attr("x", L).attr("y", T).attr("width", FW).attr("height", FH)
    .attr("fill", "none").attr("stroke", "#222").attr("stroke-width", 1.3);

  g.append("text").attr("x", L + FW / 2).attr("y", T + FH + 53).attr("text-anchor", "middle")
    .attr("font-family", SANS).attr("font-size", 21).attr("fill", "#000").text(panelLabels[k]);

  if (k % 4 === 0) {
    g.append("text").attr("transform", `translate(62.5,${T + FH / 2}) rotate(-90)`)
      .attr("text-anchor", "middle").attr("font-family", SANS).attr("font-weight", "bold")
      .attr("font-size", 22.4).attr("fill", "#000").text(yAxisTitle);
  }
});

// legend
const legLineX = [159.4, 337.5, 515.7, 693.8, 882.9, 1073.1, 1263.3, 1453.5];
const legTextX = [218.8, 396.9, 575, 753.2, 943.4, 1133.6, 1323.8, 1514];
layerNames.forEach((n, j) => {
  svg.append("line").attr("x1", legLineX[j]).attr("x2", legLineX[j] + 44).attr("y1", 61.7).attr("y2", 61.7)
    .attr("stroke", colors[j]).attr("stroke-opacity", 0.7).attr("stroke-width", 2.2);
  svg.append("text").attr("x", legTextX[j]).attr("y", 69).attr("font-family", SANS).attr("font-weight", "bold")
    .attr("font-size", 21).attr("fill", "#000").text(n);
});

// bottom titles
function fitTitle(txt, cx, width) {
  const t = svg.append("text").attr("x", cx).attr("y", 867).attr("text-anchor", "middle")
    .attr("font-family", SANS).attr("font-weight", "bold").attr("font-size", 20).attr("fill", "#000").text(txt);
  const w = t.node().getComputedTextLength();
  t.attr("font-size", 20 * width / w);
}
fitTitle(titleLeft, 467.9, 726.7);
fitTitle(titleRight, 1291.9, 734.4);

// caption
const captionLines = [
  [{t: "Figure 3", b: 1}, {t: "\u2003"}, {t: "Top Left:", b: 1}, {t: " Both "}, {t: "LLaMA-3-8B-Instruct", sc: 1}, {t: " (a) and "}, {t: "Mistral-7B-Instruct-v0.3", sc: 1}, {t: " (b) exhibit a cosine similarity"}],
  [{t: "larger than 0.9 for the key states from distinct initial tokens. "}, {t: "Top Right:", b: 1}, {t: " Initial token\u2019s key states show similar negative"}],
  [{t: "values to those from other positions for "}, {t: "LLaMA-3-8B-Instruct", sc: 1}, {t: " (c) and "}, {t: "Mistral-7B-Instruct-v0.3", sc: 1}, {t: " (d) models."}],
  [{t: "Bottom:", b: 1}, {t: " Value states exhibit patterns similar to those observed in key states. The X-axis shows positions of key and"}],
  [{t: "value states on a logarithmic scale. Visualizations and analyses for more base models are provided in Appendix "}, {t: "B", c: "#4b2a9e"}, {t: "."}]
];
const capY = [938.5, 976, 1013.6, 1051.2, 1088.8];
const capW = [1641.5, 1641.5, 1641.5, 1641.5, 1587.5];
captionLines.forEach((parts, i) => {
  const t = svg.append("text").attr("x", 41.8).attr("y", capY[i]).attr("font-family", SERIF)
    .attr("font-size", 30).attr("fill", "#000");
  parts.forEach(p => {
    const ts = t.append("tspan").text(p.t);
    if (p.b) ts.attr("font-weight", "bold");
    if (p.sc) ts.style("font-variant", "small-caps");
    if (p.c) ts.attr("fill", p.c);
  });
  const full = parts.map(p => p.t).join("");
  const nSp = (full.match(/ /g) || []).length;
  const n = full.length;
  let w = t.node().getComputedTextLength();
  const extra = capW[i] - w;
  t.attr("letter-spacing", (extra * 0.85 / n).toFixed(3));
  w = t.node().getComputedTextLength();
  t.attr("word-spacing", ((capW[i] - w) / nSp).toFixed(3));
});
</script>
</body></html>
